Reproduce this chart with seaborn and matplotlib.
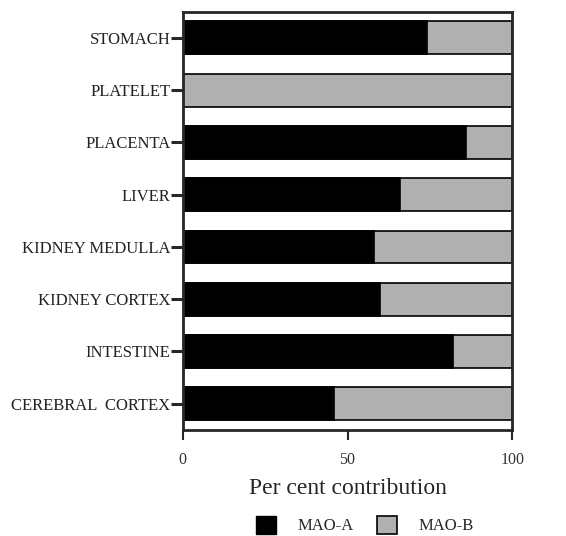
import pandas as pd
import matplotlib.pyplot as plt
import seaborn as sns
from matplotlib.patches import Patch

# Dokular ve MAO-A payı (%); MAO-B = 100 - MAO-A
tissues = ['STOMACH', 'PLATELET', 'PLACENTA', 'LIVER', 'KIDNEY MEDULLA',
           'KIDNEY CORTEX', 'INTESTINE', 'CEREBRAL  CORTEX']
mao_a = [74, 0, 86, 66, 58, 60, 82, 46]
total = [100, 100, 100, 100, 100, 100, 100, 100]
xticks = [0, 50, 100]

df = pd.DataFrame({'tissue': tissues, 'mao_a': mao_a, 'total': total})

sns.set_style('ticks')
plt.rcParams['font.family'] = ['Liberation Serif', 'DejaVu Serif']

fig = plt.figure(figsize=(5.66, 5.36), dpi=100)
ax = fig.add_axes([0.323, 0.198, 0.582, 0.780])

grey = '#b0b0b0'
# önce toplam (gri = MAO-B), sonra üstüne MAO-A (siyah)
sns.barplot(data=df, x='total', y='tissue', orient='h', color=grey,
            edgecolor='black', linewidth=1.2, width=0.63, ax=ax, saturation=1)
sns.barplot(data=df, x='mao_a', y='tissue', orient='h', color='black',
            edgecolor='black', linewidth=1.2, width=0.63, ax=ax, saturation=1)

ax.set_xlim(0, 100)
ax.set_ylim(7.5, -0.5)
ax.set_xticks(xticks)
ax.set_xticklabels([str(v) for v in xticks], fontsize=11.5, color='#333333')
ax.tick_params(axis='y', labelsize=12, length=9, width=2.2, pad=0,
               labelcolor='#222222')
ax.tick_params(axis='x', length=7, width=1.5, pad=9)
ax.set_ylabel('')
ax.set_xlabel('Per cent contribution', fontsize=17, labelpad=7)
for s in ax.spines.values():
    s.set_linewidth(2)
    s.set_visible(True)

handles = [Patch(facecolor='black', edgecolor='black', label='MAO-A'),
           Patch(facecolor=grey, edgecolor='black', linewidth=1.2, label='MAO-B')]
fig.legend(handles=handles, loc='lower center', bbox_to_anchor=(0.645, -0.025),
           ncol=2, frameon=False, fontsize=12, handlelength=1.2,
           handleheight=1.3, columnspacing=1.4, handletextpad=1.3)

plt.savefig('out.png', dpi=100)
